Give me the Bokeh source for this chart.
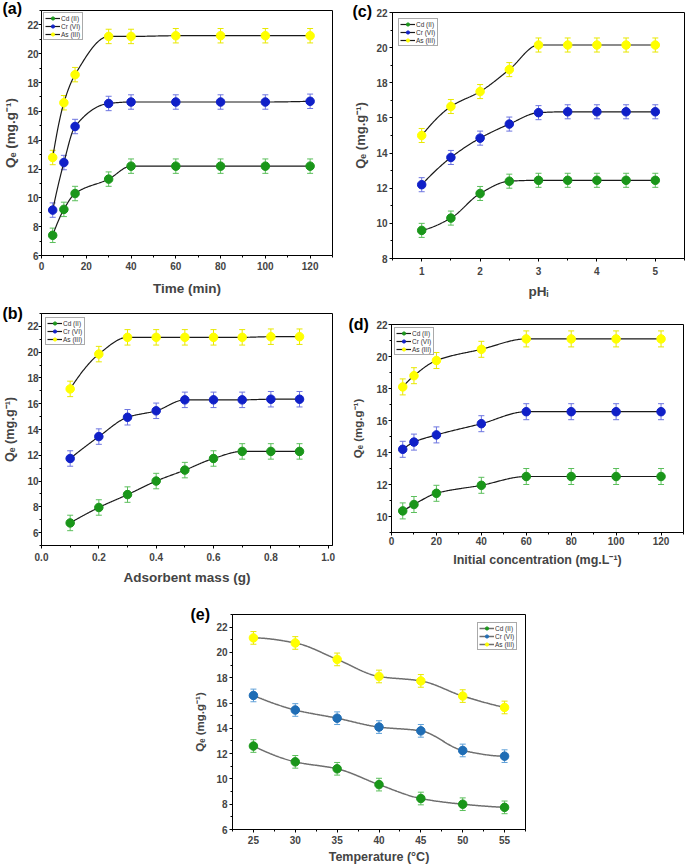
import numpy as np
from bokeh.plotting import figure
from bokeh.models import (ColumnDataSource, Whisker, TeeHead, Legend, LegendItem,
                          Range1d, SingleIntervalTicker, PrintfTickFormatter, Spacer)
from bokeh.layouts import row, column
from bokeh.embed import file_html
from bokeh.resources import INLINE

# ---------------- data ----------------
SERIES_NAMES = ["Cd (II)", "Cr (VI)", "As (III)"]

TIME_MIN = [5, 10, 15, 30, 40, 60, 80, 100, 120]
A_CD = [7.4, 9.2, 10.3, 11.3, 12.2, 12.2, 12.2, 12.2, 12.2]
A_CR = [9.15, 12.45, 14.95, 16.55, 16.65, 16.65, 16.65, 16.65, 16.7]
A_AS = [12.8, 16.6, 18.55, 21.2, 21.2, 21.25, 21.25, 21.25, 21.25]
ERR_A = 0.5

MASS_G = [0.1, 0.2, 0.3, 0.4, 0.5, 0.6, 0.7, 0.8, 0.9]
B_CD = [6.75, 7.95, 8.95, 10.0, 10.85, 11.75, 12.3, 12.3, 12.3]
B_CR = [11.75, 13.45, 14.95, 15.45, 16.3, 16.3, 16.3, 16.35, 16.35]
B_AS = [17.15, 19.85, 21.15, 21.15, 21.15, 21.15, 21.15, 21.2, 21.2]
ERR_B = 0.6

PH_I = [1, 1.5, 2, 2.5, 3, 3.5, 4, 4.5, 5]
C_CD = [9.6, 10.3, 11.7, 12.4, 12.45, 12.45, 12.45, 12.45, 12.45]
C_CR = [12.2, 13.75, 14.85, 15.65, 16.3, 16.35, 16.35, 16.35, 16.35]
C_AS = [15.0, 16.65, 17.5, 18.75, 20.15, 20.15, 20.15, 20.15, 20.15]
ERR_C = 0.4

CONC = [5, 10, 20, 40, 60, 80, 100, 120]
D_CD = [10.35, 10.75, 11.45, 11.95, 12.5, 12.5, 12.5, 12.5]
D_CR = [14.2, 14.65, 15.1, 15.8, 16.55, 16.55, 16.55, 16.55]
D_AS = [18.1, 18.8, 19.75, 20.45, 21.1, 21.1, 21.1, 21.1]
ERR_D = 0.5

TEMP_C = [25, 30, 35, 40, 45, 50, 55]
E_CD = [12.6, 11.35, 10.8, 9.55, 8.45, 8.0, 7.75]
E_CR = [16.6, 15.45, 14.8, 14.1, 13.8, 12.25, 11.8]
E_AS = [21.15, 20.75, 19.45, 18.1, 17.75, 16.55, 15.65]
ERR_E = 0.5

# ---------------- style ----------------
FONT = "Liberation Sans"
GREEN, GREEN_E = "#1a961a", "#5cbf5c"
BLUE, BLUE_E = "#1020c8", "#6d75e0"
YELLOW, YELLOW_E = "#ffff00", "#e8e800"
SBLUE, SBLUE_E = "#1f6db5", "#5fa0d8"


def pchip(x, y, n=300):
    x = np.asarray(x, float)
    y = np.asarray(y, float)
    h = np.diff(x)
    d = np.diff(y) / h
    m = np.zeros_like(y)
    for k in range(1, len(x) - 1):
        if d[k - 1] * d[k] > 0:
            w1 = 2 * h[k] + h[k - 1]
            w2 = h[k] + 2 * h[k - 1]
            m[k] = (w1 + w2) / (w1 / d[k - 1] + w2 / d[k])

    def end(h0, h1, d0, d1):
        mm = ((2 * h0 + h1) * d0 - h0 * d1) / (h0 + h1)
        if np.sign(mm) != np.sign(d0):
            mm = 0.0
        elif np.sign(d0) != np.sign(d1) and abs(mm) > abs(3 * d0):
            mm = 3 * d0
        return mm

    m[0] = end(h[0], h[1], d[0], d[1])
    m[-1] = end(h[-1], h[-2], d[-1], d[-2])
    xs = np.linspace(x[0], x[-1], n)
    idx = np.clip(np.searchsorted(x, xs, side="right") - 1, 0, len(h) - 1)
    t = (xs - x[idx]) / h[idx]
    h00 = 2 * t**3 - 3 * t**2 + 1
    h10 = t**3 - 2 * t**2 + t
    h01 = -2 * t**3 + 3 * t**2
    h11 = t**3 - t**2
    ys = h00 * y[idx] + h10 * h[idx] * m[idx] + h01 * y[idx + 1] + h11 * h[idx] * m[idx + 1]
    return xs, ys


def style_axis(ax, ticker, label, label_size, label_standoff, tick_standoff, fmt=None):
    ax.ticker = ticker
    ax.axis_label = label
    ax.axis_label_text_font = FONT
    ax.axis_label_text_font_style = "bold"
    ax.axis_label_text_font_size = label_size
    ax.axis_label_standoff = label_standoff
    ax.major_label_text_font = FONT
    ax.major_label_text_font_style = "bold"
    ax.major_label_text_font_size = "10px"
    ax.major_label_standoff = tick_standoff
    ax.major_tick_out = 3
    ax.major_tick_in = 0
    ax.minor_tick_out = 2
    ax.minor_tick_in = 0
    ax.axis_line_color = "black"
    ax.major_tick_line_color = "black"
    ax.minor_tick_line_color = "black"
    if fmt is not None:
        ax.formatter = fmt


def make_panel(spec):
    p = figure(width=spec["w"], height=spec["h"], output_backend="svg", toolbar_location=None,
               x_range=Range1d(*spec["xr"]), y_range=Range1d(*spec["yr"]),
               min_border_left=spec["b"][0], min_border_right=spec["b"][1],
               min_border_top=spec["b"][2], min_border_bottom=spec["b"][3],
               title=spec["name"], title_location="above", frame_align=False)
    p.grid.visible = False
    p.outline_line_color = "black"
    p.outline_line_width = 1
    p.background_fill_color = "white"
    p.border_fill_color = "white"

    # panel tag, e.g. "(a)", placed left of the frame's top edge
    p.title.align = "left"
    p.title.offset = spec["tag"][0]
    p.title.standoff = spec["tag"][1]
    p.title.vertical_align = "bottom"
    p.title.text_font = FONT
    p.title.text_font_style = "bold"
    p.title.text_font_size = "16px"
    p.title.text_color = "black"

    style_axis(p.xaxis[0], SingleIntervalTicker(interval=spec["xi"], num_minor_ticks=2),
               spec["xl"], spec["xls"], spec["xstd"][0], spec["xstd"][1], spec.get("xfmt"))
    style_axis(p.yaxis[0], SingleIntervalTicker(interval=2, num_minor_ticks=2),
               "Q\u2091 (mg.g\u207b\u00b9)", spec["yls"], spec["ystd"][0], spec["ystd"][1])

    items = []
    for vals, col, ecol, name in spec["series"]:
        err = spec["err"]
        src = ColumnDataSource(dict(x=spec["x"], y=vals,
                                    lo=[v - err for v in vals], hi=[v + err for v in vals]))
        cx, cy = pchip(spec["x"], vals)
        lr = p.line(cx, cy, line_color=spec["lc"], line_width=spec["lw"])
        wk = Whisker(base="x", upper="hi", lower="lo", source=src, line_color=ecol, line_width=1,
                     upper_head=TeeHead(size=6, line_color=ecol, line_width=1),
                     lower_head=TeeHead(size=6, line_color=ecol, line_width=1))
        p.add_layout(wk)
        sr = p.scatter("x", "y", source=src, size=8.5, fill_color=col, line_color=col)
        items.append(LegendItem(label=name, renderers=[lr, sr]))

    lg = Legend(items=items, location=spec["lloc"], margin=spec["lm"], padding=1, spacing=0,
                glyph_width=15, glyph_height=8, label_height=8, label_standoff=1,
                label_text_font_size="6.5px", label_text_font=FONT, label_text_color="#333333",
                border_line_color="#555555", border_line_width=1, background_fill_alpha=1)
    p.add_layout(lg)
    return p


fa = make_panel(dict(w=340, h=302, b=(39, 8, 10, 47), xr=(0, 130), yr=(6, 23), xi=20,
                     xl="Time (min)", xls="13.5px", xstd=(8, 3), yls="13.5px", ystd=(6, 0),
                     x=TIME_MIN, err=ERR_A, lc="#1a1a1a", lw=1.2,
                     series=[(A_CD, GREEN, GREEN_E, SERIES_NAMES[0]),
                             (A_CR, BLUE, BLUE_E, SERIES_NAMES[1]),
                             (A_AS, YELLOW, YELLOW_E, SERIES_NAMES[2])],
                     lloc="top_left", lm=2, tag=(-39, -13), name="(a)"))

fc = make_panel(dict(w=345, h=302, b=(52, 1, 12, 44), xr=(0.5, 5.5), yr=(8, 22), xi=1,
                     xl="pH\u1d62", xls="13.5px", xstd=(6, 5), yls="13px", ystd=(5, 2),
                     x=PH_I, err=ERR_C, lc="#1a1a1a", lw=1.2,
                     series=[(C_CD, GREEN, GREEN_E, SERIES_NAMES[0]),
                             (C_CR, BLUE, BLUE_E, SERIES_NAMES[1]),
                             (C_AS, YELLOW, YELLOW_E, SERIES_NAMES[2])],
                     lloc="top_left", lm=6, tag=(-40, -15), name="(c)"))

fb = make_panel(dict(w=340, h=288, b=(39, 8, 11, 45), xr=(0, 1.015), yr=(5, 23), xi=0.2,
                     xl="Adsorbent mass (g)", xls="13.5px", xstd=(6, 4), yls="12.7px", ystd=(7, 0),
                     xfmt=PrintfTickFormatter(format="%.1f"),
                     x=MASS_G, err=ERR_B, lc="#1a1a1a", lw=1.2,
                     series=[(B_CD, GREEN, GREEN_E, SERIES_NAMES[0]),
                             (B_CR, BLUE, BLUE_E, SERIES_NAMES[1]),
                             (B_AS, YELLOW, YELLOW_E, SERIES_NAMES[2])],
                     lloc="top_left", lm=4, tag=(-39, -16), name="(b)"))

fd = make_panel(dict(w=345, h=288, b=(51, 2, 22, 58), xr=(0, 130), yr=(9, 22), xi=20,
                     xl="Initial concentration (mg.L\u207b\u00b9)", xls="12.5px", xstd=(5, 1),
                     yls="11.5px", ystd=(9, 1),
                     x=CONC, err=ERR_D, lc="#1a1a1a", lw=1.2,
                     series=[(D_CD, GREEN, GREEN_E, SERIES_NAMES[0]),
                             (D_CR, BLUE, BLUE_E, SERIES_NAMES[1]),
                             (D_AS, YELLOW, YELLOW_E, SERIES_NAMES[2])],
                     lloc="top_left", lm=3, tag=(-43, -16), name="(d)"))

fe = make_panel(dict(w=380, h=276, b=(52, 35, 24, 37), xr=(22.5, 57.5), yr=(6, 23), xi=5,
                     xl="Temperature (\u00b0C)", xls="12.5px", xstd=(3, 3),
                     yls="11.5px", ystd=(7, 2),
                     x=TEMP_C, err=ERR_E, lc="#6e6e6e", lw=1.5,
                     series=[(E_CD, GREEN, GREEN_E, SERIES_NAMES[0]),
                             (E_CR, SBLUE, SBLUE_E, SERIES_NAMES[1]),
                             (E_AS, YELLOW, YELLOW_E, SERIES_NAMES[2])],
                     lloc="top_right", lm=8, tag=(-42, -16), name="(e)"))

layout = column(row(fa, fc), row(fb, fd), row(Spacer(width=180, height=276), fe))

open("out.html", "w").write(file_html(layout, INLINE))
